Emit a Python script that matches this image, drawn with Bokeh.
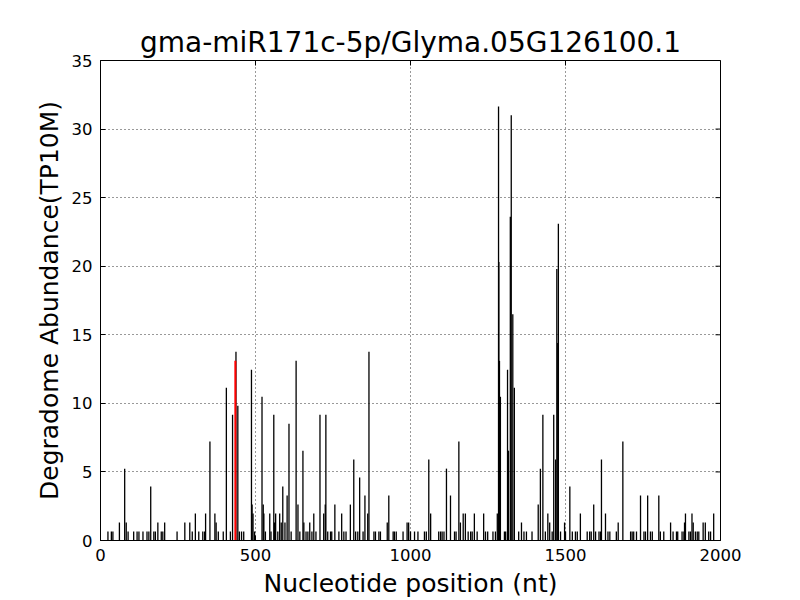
from bokeh.plotting import figure
from bokeh.models import Range1d, FixedTicker
from bokeh.embed import file_html
from bokeh.resources import INLINE
import math

title_text = "gma-miR171c-5p/Glyma.05G126100.1"
x_label = "Nucleotide position (nt)"
y_label = "Degradome Abundance(TP10M)"
x_ticks = [0, 500, 1000, 1500, 2000]
y_ticks = [0, 5, 10, 15, 20, 25, 30, 35]

positions = [
    24, 35, 40, 61, 78, 83, 89, 107, 118, 124, 137, 150, 156, 162, 172, 177, 185, 196, 201, 207,
    247, 272, 288, 296, 306, 317, 330, 336, 339, 353, 369, 373, 380, 396, 406, 419, 426, 437, 443,
    448, 455, 462, 487, 489, 492, 497,
    521, 525, 527, 532, 546, 550, 559, 561, 565, 572, 578, 583, 588, 595, 602, 608, 615, 631, 637,
    643, 653, 656, 663, 669, 675, 682, 688, 695, 708, 720, 725, 727, 733, 742, 746, 756, 769, 778,
    785, 792, 806, 817, 823, 830, 836, 847, 853, 862, 866, 882, 887, 898, 903, 925, 930, 944, 948,
    954, 976, 989, 994,
    1000, 1013, 1024, 1045, 1051, 1059, 1065, 1091, 1097, 1102, 1108, 1116, 1129, 1142, 1147, 1156,
    1161, 1170, 1177, 1186, 1194, 1199, 1206, 1215, 1236, 1242, 1249, 1266, 1274, 1280, 1284, 1285,
    1287, 1290, 1303, 1307, 1313, 1316, 1322, 1325, 1330, 1335, 1349, 1358, 1366, 1374, 1392, 1412,
    1419, 1427, 1435, 1443, 1449, 1457, 1462, 1468, 1472, 1475, 1477,
    1484, 1497, 1500, 1514, 1522, 1532, 1538, 1548, 1570, 1578, 1583, 1591, 1597, 1608, 1613, 1616,
    1629, 1637, 1643, 1664, 1670, 1685, 1710, 1715, 1720, 1729, 1742, 1753, 1758, 1765, 1774, 1780,
    1801, 1806, 1817, 1839, 1847, 1858, 1862, 1876, 1882, 1884, 1887, 1898, 1903, 1908, 1912, 1919,
    1925, 1930, 1944, 1951, 1962, 1968, 1978,
]
abundance = [
    0.66, 0.66, 0.66, 1.31, 5.24, 1.31, 0.66, 0.66, 0.66, 0.66, 0.66, 0.66, 0.66, 3.93, 0.66, 0.66, 1.31, 0.66, 0.66, 1.31,
    0.66, 1.31, 1.31, 0.66, 1.97, 0.66, 0.66, 0.66, 1.97, 7.21, 1.97, 1.31, 0.66, 0.66, 11.14, 0.66, 9.17, 13.76, 9.83,
    0.66, 0.66, 0.66, 12.45, 2.62, 1.97, 0.66,
    10.48, 2.62, 1.97, 0.66, 1.97, 0.66, 9.17, 1.31, 1.97, 0.66, 1.97, 1.31, 3.93, 1.31, 3.28, 8.52, 0.66, 13.10, 2.62,
    0.66, 6.55, 1.31, 0.66, 0.66, 1.31, 0.66, 1.97, 0.66, 9.17, 1.97, 2.62, 9.17, 0.66, 0.66, 0.66, 2.62, 0.66, 1.97,
    0.66, 0.66, 2.62, 5.90, 0.66, 0.66, 4.59, 0.66, 3.28, 1.97, 13.76, 0.66, 0.66, 0.66, 0.66, 1.31, 3.28, 0.66, 0.66,
    0.66, 0.66, 1.31, 1.31,
    0.66, 0.66, 0.66, 0.66, 0.66, 5.90, 1.97, 0.66, 0.66, 0.66, 0.66, 5.24, 3.28, 0.66, 0.66, 7.21,
    1.31, 1.97, 1.97, 0.66, 0.66, 0.66, 1.97, 0.66, 1.97, 0.66, 0.66, 0.66, 0.66, 1.97, 31.64, 20.30,
    13.10, 10.48, 0.66, 0.66, 12.45, 6.55, 23.60, 31.00, 16.50, 11.14, 0.66, 1.31, 0.66, 0.66, 0.66, 2.62,
    5.24, 9.17, 0.66, 1.97, 1.31, 0.66, 9.17, 5.90, 19.80, 14.40, 23.10,
    0.66, 1.31, 0.66, 3.93, 0.66, 0.66, 0.66, 1.97, 0.66, 0.66, 0.66, 2.62, 0.66, 0.66, 0.66, 5.90,
    1.97, 0.66, 0.66, 0.66, 1.31, 7.21, 0.66, 0.66, 0.66, 0.66, 3.28, 0.66, 0.66, 3.28, 0.66, 0.66,
    3.28, 0.66, 0.66, 1.31, 0.66, 0.66, 0.66, 0.66, 0.66, 1.31, 1.97, 0.66, 0.66, 1.97, 1.31, 0.66,
    0.66, 0.66, 1.31, 1.31, 0.66, 0.66, 1.97,
]
cleavage_pos = [435]
cleavage_val = [13.10]

FONT = "DejaVu Sans"

p = figure(
    frame_width=620, frame_height=480,
    x_range=Range1d(0, 2000), y_range=Range1d(0, 35),
    output_backend="svg", toolbar_location=None,
    min_border_left=100, min_border_right=70, min_border_top=60, min_border_bottom=50,
    background_fill_color="white", border_fill_color="white",
)
p.title.text = title_text
p.title.text_font = FONT
p.title.text_font_size = "28px"
p.title.text_font_style = "normal"
p.title.text_color = "black"
p.title.align = "center"
p.title.standoff = 4

p.outline_line_color = "black"
p.outline_line_width = 1

for ax in [p.xaxis[0], p.yaxis[0]]:
    ax.major_tick_in = 5
    ax.major_tick_out = 0
    ax.minor_tick_in = 0
    ax.minor_tick_out = 0
    ax.axis_line_color = "black"
    ax.major_label_text_font = FONT
    ax.major_label_text_font_size = "16.5px"
    ax.major_label_text_color = "black"
    ax.axis_label_text_font = FONT
    ax.axis_label_text_font_size = "25px"
    ax.axis_label_text_font_style = "normal"
    ax.axis_label_text_color = "black"

p.xaxis[0].ticker = FixedTicker(ticks=x_ticks)
p.yaxis[0].ticker = FixedTicker(ticks=y_ticks)
p.xaxis[0].axis_label = x_label
p.yaxis[0].axis_label = y_label
p.xaxis[0].major_label_standoff = 8
p.yaxis[0].major_label_standoff = 8
p.xaxis[0].axis_label_standoff = 5
p.yaxis[0].axis_label_standoff = 5

p.xgrid.ticker = FixedTicker(ticks=x_ticks)
p.ygrid.ticker = FixedTicker(ticks=y_ticks)
for g in [p.xgrid[0], p.ygrid[0]]:
    g.grid_line_color = "black"
    g.grid_line_dash = "1 3"
    g.grid_line_width = 1
    g.grid_line_alpha = 0.8

p.segment(x0=positions, y0=[0] * len(positions), x1=positions, y1=abundance,
          line_color="black", line_width=1.3)
p.segment(x0=cleavage_pos, y0=[0], x1=cleavage_pos, y1=cleavage_val,
          line_color="red", line_width=2)

# inward tick marks on the right and top edges (half of each dash is clipped by the frame)
p.scatter(x=[p.x_range.end] * len(y_ticks), y=y_ticks, marker="dash", size=10,
          line_color="black", line_width=1)
p.scatter(x=x_ticks, y=[p.y_range.end] * len(x_ticks), marker="dash", size=10,
          angle=math.pi / 2, line_color="black", line_width=1)

open("out.html", "w").write(file_html(p, INLINE))
